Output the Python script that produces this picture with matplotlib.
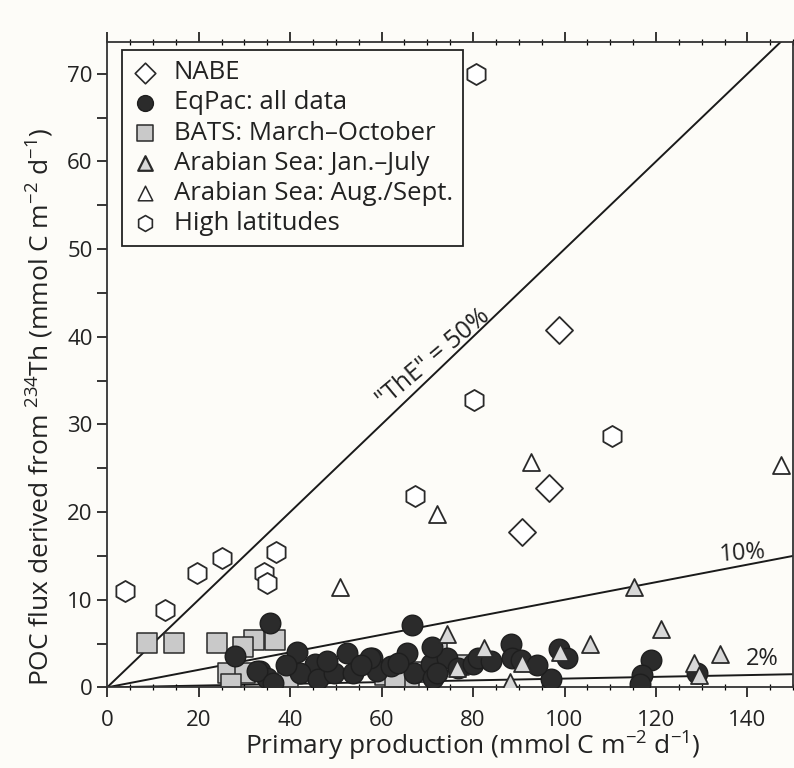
import matplotlib
matplotlib.use("Agg")
import matplotlib.pyplot as plt
from matplotlib.ticker import MultipleLocator

plt.rcParams['font.family'] = ['Open Sans', 'DejaVu Sans']
plt.rcParams['mathtext.default'] = 'regular'

# NABE (open diamonds)
nabe_pp = [98.7, 96.7, 90.6]
nabe_flux = [40.8, 22.7, 17.7]

# EqPac: all data (black circles)
eqpac_pp = [35.7, 66.7, 41.6, 45.5, 52.5, 58.0, 65.6, 33.5, 35.0, 42.2, 46.0, 49.5,
            53.8, 59.0, 67.0, 70.7, 71.3, 74.4, 76.6, 80.0, 88.2, 88.6, 90.4, 98.7,
            100.6, 97.0, 118.8, 117.0, 116.6, 129.0, 71.0, 72.2, 81.0, 28.0, 32.8,
            36.3, 57.5, 62.0, 84.0, 94.0, 39.0, 55.5, 63.5, 48.0]
eqpac_flux = [7.3, 7.1, 4.0, 2.7, 3.9, 3.4, 3.9, 1.9, 1.1, 1.6, 1.0, 1.6,
              1.6, 1.9, 1.6, 2.7, 1.1, 3.4, 2.2, 2.7, 5.0, 3.4, 3.1, 4.4,
              3.4, 1.0, 3.1, 1.4, 0.4, 1.6, 4.6, 1.6, 3.3, 3.6, 1.9,
              0.5, 3.4, 2.4, 3.0, 2.6, 2.5, 2.6, 2.8, 3.0]

# BATS: March-October (grey squares)
bats_pp = [8.7, 14.5, 24.0, 32.0, 36.8, 29.8, 26.5, 30.2, 27.0, 39.6, 60.8, 68.0,
           72.2, 66.0, 77.0, 63.0]
bats_flux = [5.1, 5.1, 5.1, 5.4, 5.4, 4.6, 1.6, 1.6, 0.4, 1.0, 1.4, 1.7,
             3.9, 0.7, 2.5, 1.2]

# Arabian Sea: Jan.-July (grey triangles)
asj_pp = [115.1, 121.0, 105.5, 74.2, 82.5, 90.7, 99.0, 76.4, 88.0, 128.2, 129.3,
          133.9]
asj_flux = [11.4, 6.7, 4.9, 6.1, 4.5, 2.8, 4.0, 2.2, 0.6, 2.8, 1.4, 3.8]

# Arabian Sea: Aug./Sept. (open triangles)
asa_pp = [92.6, 72.2, 51.0, 147.3]
asa_flux = [25.7, 19.8, 11.4, 25.4]

# High latitudes (open hexagons)
hl_pp = [80.7, 80.3, 110.3, 67.2, 3.9, 12.7, 19.7, 25.2, 37.0, 34.2, 35.0]
hl_flux = [70.0, 32.8, 28.7, 21.8, 11.0, 8.8, 13.0, 14.8, 15.4, 13.1, 11.9]

# "ThE" reference lines (drawn ratio) and their labels
the_ratio = [0.5, 0.1, 0.01]
the_text = ['"ThE" = 50%', '10%', '2%']

fig = plt.figure(figsize=(7.94, 7.68), dpi=100, facecolor='#fdfcf8')
ax = fig.add_axes([0.135, 0.105, 0.864, 0.84])
ax.set_facecolor('#fdfcf8')

x_line = [0, 150]
for r in the_ratio:
    ax.plot(x_line, [0, r * 150], color='#1a1a1a', lw=1.4, zorder=1)

ink = '#2a2a2a'
txt = '#222222'
ax.scatter(bats_pp, bats_flux, marker='s', s=210, facecolor='#c9c9c9',
           edgecolor=ink, linewidth=1.1, zorder=2)
ax.scatter(eqpac_pp, eqpac_flux, marker='o', s=220, facecolor='#2b2b2b',
           edgecolor='#1e1e1e', linewidth=1.0, zorder=3)
ax.scatter(asj_pp, asj_flux, marker='^', s=150, facecolor='#d8d8d8',
           edgecolor=ink, linewidth=1.3, zorder=4)
ax.scatter(asa_pp, asa_flux, marker='^', s=150, facecolor='white',
           edgecolor=ink, linewidth=1.3, zorder=4)
ax.scatter(hl_pp, hl_flux, marker='h', s=230, facecolor='white',
           edgecolor=ink, linewidth=1.3, zorder=4)
ax.scatter(nabe_pp, nabe_flux, marker='D', s=190, facecolor='white',
           edgecolor=ink, linewidth=1.3, zorder=4)

ax.text(71.2, 37.6, the_text[0], rotation=40, ha='center', va='center',
        fontsize=18, color=txt)
ax.text(139, 15.3, the_text[1], rotation=4, ha='center', va='center',
        fontsize=17, color=txt)
ax.text(143.3, 3.2, the_text[2], ha='center', va='center',
        fontsize=17, color=txt)

ax.set_xlim(0, 150)
ax.set_ylim(0, 73.6)
ax.xaxis.set_major_locator(MultipleLocator(20))
ax.xaxis.set_minor_locator(MultipleLocator(5))
ax.yaxis.set_major_locator(MultipleLocator(10))
ax.yaxis.set_minor_locator(MultipleLocator(5))
ax.tick_params(axis='x', which='major', direction='out', length=7, width=1.1,
               labelsize=16, top=True, pad=9, labelcolor=txt)
ax.tick_params(axis='x', which='minor', direction='inout', length=5, width=0.9,
               top=True)
ax.tick_params(axis='y', which='both', direction='out', length=7, width=1.1,
               labelsize=16, labelcolor=txt)
for side in ['left', 'bottom', 'top', 'right']:
    ax.spines[side].set_linewidth(1.3)
    ax.spines[side].set_color('#333333')

ax.set_xlabel('Primary production (mmol C m$^{-2}$ d$^{-1}$)', fontsize=19,
              labelpad=0, color=txt)
ax.set_ylabel('POC flux derived from $^{234}$Th (mmol C m$^{-2}$ d$^{-1}$)',
              fontsize=19, labelpad=6, color=txt)
ax.xaxis.set_label_coords(0.533, -0.066)
ax.yaxis.set_label_coords(-0.075, 0.435)

handles = [
    ax.scatter([], [], marker='D', s=110, facecolor='white', edgecolor=ink, linewidth=1.2),
    ax.scatter([], [], marker='o', s=130, facecolor='#2b2b2b', edgecolor='#1e1e1e'),
    ax.scatter([], [], marker='s', s=130, facecolor='#c9c9c9', edgecolor=ink, linewidth=1.1),
    ax.scatter([], [], marker='^', s=110, facecolor='#d8d8d8', edgecolor=ink, linewidth=1.6),
    ax.scatter([], [], marker='^', s=110, facecolor='white', edgecolor=ink, linewidth=1.1),
    ax.scatter([], [], marker='h', s=130, facecolor='white', edgecolor=ink, linewidth=1.2),
]
labels = ['NABE', 'EqPac: all data', 'BATS: March\u2013October',
          'Arabian Sea: Jan.\u2013July', 'Arabian Sea: Aug./Sept.',
          'High latitudes']
leg = ax.legend(handles, labels, loc='upper left', bbox_to_anchor=(0.022, 0.988),
                borderaxespad=0, fontsize=18.5, frameon=True, fancybox=False,
                edgecolor='#222222', handletextpad=0.6, labelspacing=0.2,
                borderpad=0.4, handlelength=1.0, labelcolor=txt)
leg.get_frame().set_linewidth(1.3)
leg.get_frame().set_facecolor('#fdfcf8')
leg.get_frame().set_alpha(1)
leg.set_zorder(5)

fig.savefig('out.png', dpi=100, facecolor=fig.get_facecolor())
